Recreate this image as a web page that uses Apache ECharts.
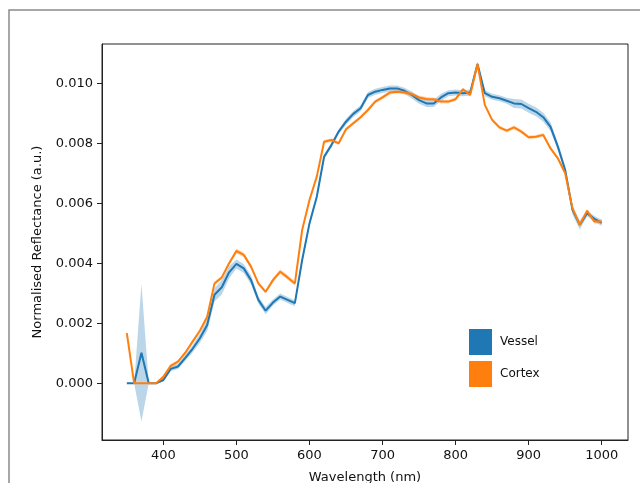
<!DOCTYPE html>
<html>
<head>
<meta charset="utf-8">
<script src="https://cdn.jsdelivr.net/npm/echarts@6/dist/echarts.min.js"></script>
<style>
  html, body { margin: 0; padding: 0; background: #fff; overflow: hidden; }
  #viz { width: 640px; height: 483px; }
</style>
</head>
<body>
<div id="viz"></div>
<script>
// values are read in units of 1e-3 (a.u.)
var SCALE = 1e-3;

var wavelengths = [350, 360, 370, 380, 390, 400, 410, 420, 430, 440,
                   450, 460, 470, 480, 490, 500, 510, 520, 530, 540,
                   550, 560, 570, 580, 590, 600, 610, 620, 630, 640,
                   650, 660, 670, 680, 690, 700, 710, 720, 730, 740,
                   750, 760, 770, 780, 790, 800, 810, 820, 830, 840,
                   850, 860, 870, 880, 890, 900, 910, 920, 930, 940,
                   950, 960, 970, 980, 990, 1000];

var vesselMean = [0, 0, 1.02, 0, 0, 0.11, 0.48, 0.56, 0.85, 1.15,
                  1.5, 1.94, 2.95, 3.2, 3.7, 3.98, 3.83, 3.44, 2.78, 2.42,
                  2.69, 2.89, 2.78, 2.67, 4.11, 5.33, 6.22, 7.55, 7.94, 8.39,
                  8.72, 8.98, 9.17, 9.61, 9.72, 9.78, 9.83, 9.83, 9.75, 9.61,
                  9.44, 9.33, 9.33, 9.53, 9.67, 9.69, 9.67, 9.69, 10.64, 9.67,
                  9.55, 9.5, 9.42, 9.33, 9.31, 9.17, 9.05, 8.87, 8.55, 7.89,
                  7.11, 5.78, 5.28, 5.67, 5.48, 5.35];

var vesselErr = [0, 0, 2.29, 0, 0, 0.05, 0.08, 0.08, 0.1, 0.12,
                 0.15, 0.2, 0.22, 0.24, 0.2, 0.15, 0.15, 0.15, 0.12, 0.12,
                 0.1, 0.1, 0.1, 0.1, 0.1, 0.1, 0.08, 0.08, 0.08, 0.08,
                 0.1, 0.1, 0.1, 0.1, 0.1, 0.1, 0.1, 0.1, 0.1, 0.12,
                 0.12, 0.12, 0.12, 0.12, 0.1, 0.1, 0.1, 0.1, 0.08, 0.1,
                 0.1, 0.1, 0.1, 0.15, 0.15, 0.15, 0.15, 0.15, 0.15, 0.12,
                 0.12, 0.15, 0.15, 0.1, 0.1, 0.1];

var cortexMean = [1.67, 0, 0, 0, 0, 0.22, 0.58, 0.72, 1.02, 1.39,
                  1.75, 2.22, 3.33, 3.53, 4.0, 4.41, 4.28, 3.89, 3.33, 3.05,
                  3.44, 3.72, 3.53, 3.33, 5.11, 6.11, 6.89, 8.05, 8.11, 8.0,
                  8.47, 8.67, 8.87, 9.11, 9.39, 9.53, 9.69, 9.72, 9.69, 9.64,
                  9.53, 9.48, 9.47, 9.39, 9.39, 9.47, 9.8, 9.61, 10.64, 9.28,
                  8.78, 8.53, 8.42, 8.53, 8.39, 8.2, 8.22, 8.28, 7.83, 7.5,
                  7.0, 5.83, 5.28, 5.75, 5.39, 5.39];

var cortexErr = [0.05, 0, 0, 0, 0, 0.06, 0.06, 0.06, 0.06, 0.06,
                 0.06, 0.06, 0.06, 0.06, 0.06, 0.08, 0.08, 0.06, 0.06, 0.06,
                 0.08, 0.08, 0.08, 0.08, 0.06, 0.06, 0.06, 0.06, 0.06, 0.06,
                 0.06, 0.06, 0.06, 0.06, 0.06, 0.06, 0.06, 0.06, 0.06, 0.06,
                 0.06, 0.06, 0.06, 0.06, 0.06, 0.06, 0.06, 0.06, 0.06, 0.06,
                 0.06, 0.06, 0.06, 0.06, 0.06, 0.06, 0.06, 0.06, 0.06, 0.06,
                 0.06, 0.06, 0.06, 0.06, 0.06, 0.06];

var xTicks = [400, 500, 600, 700, 800, 900, 1000];
var yTicks = [0, 0.002, 0.004, 0.006, 0.008, 0.010];

var BLUE = '#1f77b4';
var ORANGE = '#ff7f0e';
var FONT = 'DejaVu Sans';

function bandRows(mean, err){
  var rows = [];
  for (var i = 0; i < wavelengths.length; i++){
    rows.push([wavelengths[i], (mean[i] - err[i]) * SCALE, (mean[i] + err[i]) * SCALE]);
  }
  return rows;
}

function meanRows(mean){
  var rows = [];
  for (var i = 0; i < wavelengths.length; i++){
    rows.push([wavelengths[i], mean[i] * SCALE]);
  }
  return rows;
}

function bandSeries(name, mean, err, color, z){
  var rows = bandRows(mean, err);
  return [{
    name: name + ' band',
    type: 'custom',
    silent: true,
    clip: true,
    data: rows,
    encode: { x: 0, y: [1, 2] },
    renderItem: function(params, api){
      // whole band polygon drawn once, from the first item
      if (params.dataIndex !== 0) return;
      var pts = [];
      for (var i = 0; i < rows.length; i++) pts.push(api.coord([rows[i][0], rows[i][2]]));
      for (var j = rows.length - 1; j >= 0; j--) pts.push(api.coord([rows[j][0], rows[j][1]]));
      return {
        type: 'polygon',
        shape: { points: pts },
        style: { fill: color, opacity: 0.3 }
      };
    },
    z: z
  }, {
    name: name,
    type: 'line',
    symbol: 'none',
    color: color,
    lineStyle: { color: color, width: 2 },
    itemStyle: { color: color },
    data: meanRows(mean),
    z: z + 1
  }];
}

var myChart = echarts.init(document.getElementById('viz'), null, { renderer: 'canvas', width: 640, height: 483 });

var option = {
  animation: false,
  backgroundColor: '#fff',
  textStyle: { fontFamily: FONT },
  graphic: [{
    type: 'rect',
    shape: { x: 9, y: 10, width: 800, height: 600 },
    style: { fill: 'none', stroke: '#8a8a8a', lineWidth: 1.5 },
    z: -1
  }],
  grid: {
    left: 102, right: 12, top: 44, bottom: 43,
    containLabel: false,
    outerBoundsMode: 'none',
    show: true, borderColor: '#222', borderWidth: 1,
    backgroundColor: 'transparent'
  },
  legend: {
    data: [
      { name: 'Vessel', itemStyle: { color: BLUE, borderWidth: 0 } },
      { name: 'Cortex', itemStyle: { color: ORANGE, borderWidth: 0 } }
    ],
    icon: 'rect',
    orient: 'vertical',
    left: 469, top: 329,
    padding: 0,
    itemWidth: 23, itemHeight: 26, itemGap: 6,
    selectedMode: false,
    textStyle: { fontFamily: FONT, fontSize: 12, color: '#111', padding: [0, 0, 0, 3] }
  },
  xAxis: {
    type: 'value',
    min: 316, max: 1036,
    name: 'Wavelength (nm)',
    nameLocation: 'middle',
    nameGap: 31,
    nameTextStyle: { fontFamily: FONT, fontSize: 13, color: '#111' },
    axisLine: { show: true, onZero: false, lineStyle: { color: '#222', width: 1 } },
    axisTick: { show: true, length: 5, customValues: xTicks, lineStyle: { color: '#222' } },
    axisLabel: {
      customValues: xTicks, margin: 9, fontFamily: FONT, fontSize: 13, color: '#111',
      formatter: function(v){ return String(v); }
    },
    splitLine: { show: false }
  },
  yAxis: {
    type: 'value',
    min: -0.00189, max: 0.01131,
    name: 'Normalised Reflectance (a.u.)',
    nameLocation: 'middle',
    nameGap: 58,
    nameRotate: 90,
    nameTextStyle: { fontFamily: FONT, fontSize: 13, color: '#111' },
    axisLine: { show: true, onZero: false, lineStyle: { color: '#222', width: 1 } },
    axisTick: { show: true, length: 5, customValues: yTicks, lineStyle: { color: '#222' } },
    axisLabel: {
      customValues: yTicks, margin: 9, fontFamily: FONT, fontSize: 13, color: '#111',
      formatter: function(v){ return v.toFixed(3); }
    },
    splitLine: { show: false }
  },
  series: bandSeries('Vessel', vesselMean, vesselErr, BLUE, 2)
    .concat(bandSeries('Cortex', cortexMean, cortexErr, ORANGE, 4))
};

if (option && typeof option === "object") {
  myChart.setOption(option, true);
}
</script>
</body>
</html>
